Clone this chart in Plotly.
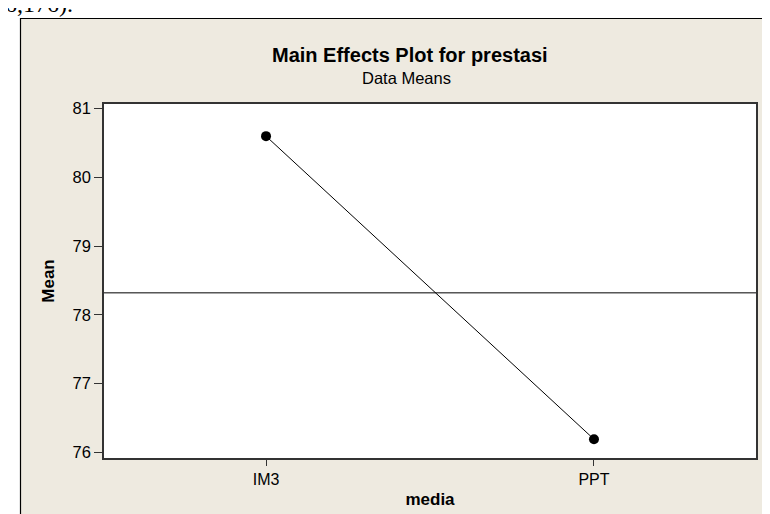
import plotly.graph_objects as go

# ---- data ----
categories = ["IM3", "PPT"]
means = [80.60, 76.19]
grand_mean = [78.32]
y_ticks = [76, 77, 78, 79, 80, 81]

W, H = 770, 514
L, R, T, B = 96, 22, 96, 64
PW, PH = W - L - R, H - T - B

def px_x(p):
    return (p - L) / PW

def px_y(p):
    return (H - B - p) / PH

BEIGE = "#EEEAE0"
FONT = "Liberation Sans, Arial, sans-serif"

fig = go.Figure()
fig.add_trace(go.Scatter(
    x=categories, y=means, mode="lines+markers",
    line=dict(color="black", width=1),
    marker=dict(color="black", size=10),
    hoverinfo="x+y", showlegend=False,
))

shapes = [
    # beige outer panel
    dict(type="rect", xref="paper", yref="paper", layer="below",
         x0=px_x(12.5), x1=px_x(820), y0=px_y(540), y1=px_y(10.5),
         fillcolor=BEIGE, line=dict(color="black", width=1.2)),
    # white plot area
    dict(type="rect", xref="paper", yref="paper", layer="below",
         x0=0, x1=1, y0=0, y1=1, fillcolor="white", line=dict(width=0)),
    # grand mean reference line
    dict(type="line", xref="paper", yref="y", x0=0, x1=1,
         y0=grand_mean[0], y1=grand_mean[0],
         line=dict(color="black", width=1)),
]

annotations = [
    dict(text="<b>Main Effects Plot for prestasi</b>", xref="paper", yref="paper",
         x=px_x(402), y=px_y(47), xanchor="center", yanchor="middle",
         showarrow=False, font=dict(family=FONT, size=20, color="black")),
    dict(text="Data Means", xref="paper", yref="paper",
         x=px_x(398), y=px_y(70.5), xanchor="center", yanchor="middle",
         showarrow=False, font=dict(family=FONT, size=16.5, color="black")),
    dict(text="6,176).", xref="paper", yref="paper",
         x=px_x(67), y=px_y(-4), xanchor="right", yanchor="middle",
         showarrow=False, font=dict(family="Liberation Serif, serif", size=24, color="black")),
]

fig.update_layout(
    width=W, height=H,
    margin=dict(l=L, r=R, t=T, b=B, pad=0),
    paper_bgcolor="white", plot_bgcolor="white",
    shapes=shapes, annotations=annotations,
    font=dict(family=FONT, size=16, color="black"),
    xaxis=dict(
        type="category", range=[-0.494, 1.494],
        showgrid=False, zeroline=False,
        showline=True, mirror=True, linecolor="#333333", linewidth=1.5,
        ticks="outside", ticklen=6, tickwidth=1, tickcolor="#333333",
        tickfont=dict(family=FONT, size=16),
        title=dict(text="<b>media</b>", font=dict(family=FONT, size=17), standoff=6),
    ),
    yaxis=dict(
        range=[75.917, 81.068], tickvals=y_ticks,
        showgrid=False, zeroline=False,
        showline=True, mirror=True, linecolor="#333333", linewidth=1.5,
        ticks="outside", ticklen=8, tickwidth=1, tickcolor="#333333",
        tickfont=dict(family=FONT, size=16.5),
        title=dict(text="<b>Mean</b>", font=dict(family=FONT, size=17), standoff=14),
    ),
)

fig.write_html("out.html")
